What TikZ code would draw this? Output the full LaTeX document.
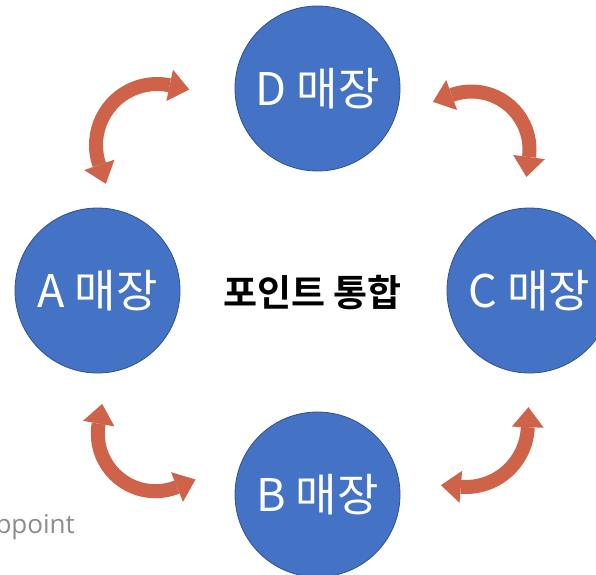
\documentclass[tikz,border=0pt]{standalone}
\usepackage{fontspec}
\usetikzlibrary{calc}
\newfontfamily\kr[BoldFont={Noto Sans CJK KR Bold}]{Noto Sans CJK KR}
\newfontfamily\notefont{Open Sans}
\definecolor{circblue}{HTML}{4472C4}
\definecolor{circedge}{HTML}{2F528F}
\definecolor{arrowred}{HTML}{CF6349}
\definecolor{notegray}{HTML}{8C8C8C}
% #1 centre coordinate, #2 radius, #3 start angle, #4 end angle
\newcommand\dblcurve[4]{%
  \draw[arcband] ($(#1)+(#3:#2)$) arc[start angle=#3, end angle=#4, radius=#2];
  \fill[arrowred] ($(#1)+(#4:#2)+(#4+90:20)$) -- ($(#1)+(#4:#2)+(#4:16)$) -- ($(#1)+(#4:#2)+(#4+180:16)$) -- cycle;
  \fill[arrowred] ($(#1)+(#3:#2)+(#3-90:20)$) -- ($(#1)+(#3:#2)+(#3:16)$) -- ($(#1)+(#3:#2)+(#3+180:16)$) -- cycle;
}
\begin{document}
\begin{tikzpicture}[x=1pt,y=-1pt,
  store/.style={circle, fill=circblue, draw=circedge, line width=0.8pt,
    minimum size=165pt, inner sep=0pt, text=white,
    font=\kr\fontsize{45}{45}\selectfont},
  arcband/.style={draw=arrowred, line width=14pt}]
\useasboundingbox (0,0) rectangle (596,574);
\fill[white] (0,0) rectangle (596,574);
\node[anchor=base east, text=notegray, inner sep=0pt,
  font=\notefont\fontsize{26}{26}\selectfont] (note) at (75,533) {ppoint};
\node[store] (D) at (317.5,88.5) {D 매장};
\node[store] (A) at (97.5,290.5) {A 매장};
\node[store] (C) at (529.5,290.5) {C 매장};
\node[store] (B) at (317.5,494.5) {B 매장};
\node[font=\kr\bfseries\fontsize{37}{37}\selectfont] (hub) at (312.5,292.5) {포인트 통합};
\coordinate (tl) at (157,145);
\coordinate (tr) at (471.5,149.5);
\coordinate (bl) at (155.4,433.6);
\coordinate (br) at (465.8,425);
\dblcurve{tl}{61}{161}{282}
\dblcurve{tr}{58}{250}{367.5}
\dblcurve{bl}{57.6}{68}{190}
\dblcurve{br}{62}{2}{94.6}
\end{tikzpicture}
\end{document}
